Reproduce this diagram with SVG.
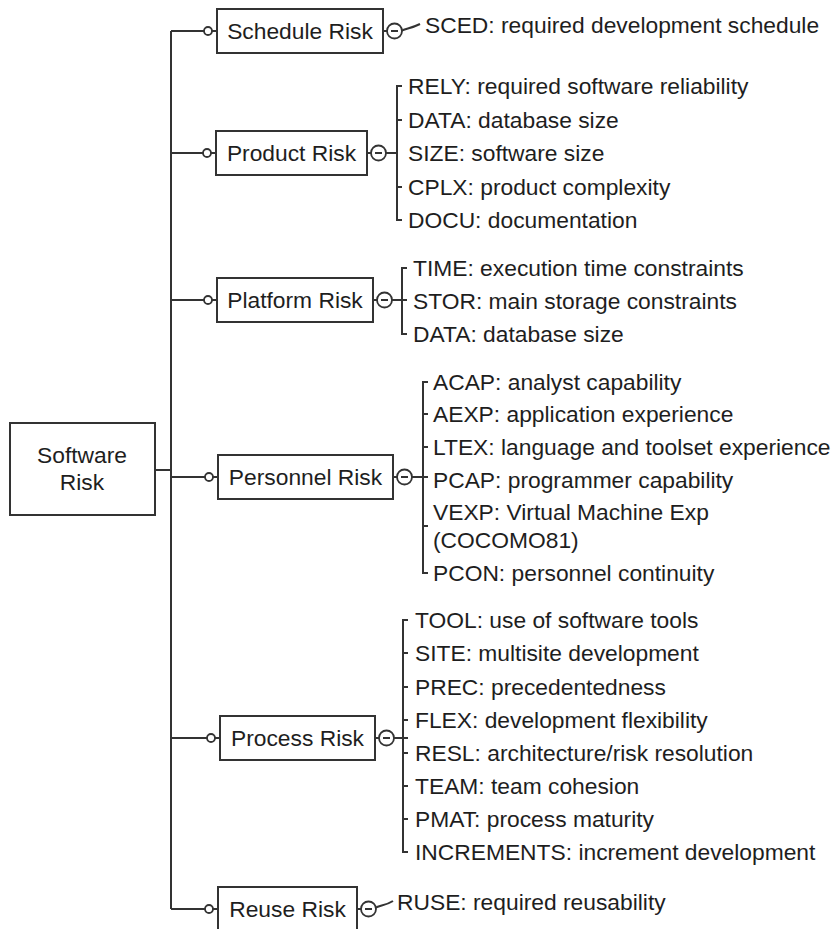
<svg xmlns="http://www.w3.org/2000/svg" width="836" height="929" viewBox="0 0 836 929">
<style>
.ln{fill:none;stroke:#333;stroke-width:2}
.box{fill:#fff;stroke:#333;stroke-width:2}
.oc{fill:#fff;stroke:#333;stroke-width:1.8}
.t{font-family:"Liberation Sans",Arial,sans-serif;font-size:22.8px;fill:#1e1e1e}
.c{text-anchor:middle}
</style>
<rect width="836" height="929" fill="#fff"/>
<g id="connectors">
<path class="ln" d="M171,31 V909"/>
<path class="ln" d="M155,470 H171"/>
<path class="ln" d="M171,31 H204 M212,31 H217"/>
<path class="ln" d="M171,153 H203 M211,153 H216"/>
<path class="ln" d="M171,300 H204 M212,300 H217"/>
<path class="ln" d="M171,477 H205 M213,477 H218"/>
<path class="ln" d="M171,738 H207 M215,738 H220"/>
<path class="ln" d="M171,909 H205 M213,909 H218"/>
<circle class="oc" cx="208" cy="31" r="4"/>
<circle class="oc" cx="207" cy="153" r="4"/>
<circle class="oc" cx="208" cy="300" r="4"/>
<circle class="oc" cx="209" cy="477" r="4"/>
<circle class="oc" cx="211" cy="738" r="4"/>
<circle class="oc" cx="209" cy="909" r="4"/>
</g>
<g id="software-risk">
<rect class="box" x="10" y="423" width="145" height="92"/>
<text class="t c" x="82" y="463">Software</text>
<text class="t c" x="82" y="490">Risk</text>
</g>
<g id="schedule-risk">
<rect class="box" x="217" y="9" width="166" height="44"/>
<text class="t c" x="300" y="39">Schedule Risk</text>
<path class="ln" d="M383,31 H387 M401,31 C406,28 410,29 420,24"/>
<circle class="oc" cx="394.5" cy="31" r="7.5"/>
<path class="ln" d="M391,31 H398"/>
<text class="t" x="425" y="33">SCED: required development schedule</text>
</g>
<g id="product-risk">
<rect class="box" x="216" y="131" width="151" height="44"/>
<text class="t c" x="291.5" y="161">Product Risk</text>
<path class="ln" d="M367,153 H371 M386,153 H397 M402,86 H397 V220 H402 M397,120 H402 M397,187 H402"/>
<circle class="oc" cx="378.5" cy="153" r="7.5"/>
<path class="ln" d="M375,153 H382"/>
<text class="t" x="408" y="94">RELY: required software reliability</text>
<text class="t" x="408" y="128">DATA: database size</text>
<text class="t" x="408" y="161">SIZE: software size</text>
<text class="t" x="408" y="195">CPLX: product complexity</text>
<text class="t" x="408" y="228">DOCU: documentation</text>
</g>
<g id="platform-risk">
<rect class="box" x="217" y="278" width="156" height="44"/>
<text class="t c" x="295" y="308">Platform Risk</text>
<path class="ln" d="M373,300 H377 M392,300 H407 M407,268 H402 V334 H407"/>
<circle class="oc" cx="384.5" cy="300" r="7.5"/>
<path class="ln" d="M381,300 H388"/>
<text class="t" x="413" y="276">TIME: execution time constraints</text>
<text class="t" x="413" y="309">STOR: main storage constraints</text>
<text class="t" x="413" y="342">DATA: database size</text>
</g>
<g id="personnel-risk">
<rect class="box" x="218" y="455" width="175" height="44"/>
<text class="t c" x="305.5" y="485">Personnel Risk</text>
<path class="ln" d="M393,477 H397 M412,477 H428 M428,382 H423 V573 H428 M423,414 H428 M423,447 H428 M423,526 H428"/>
<circle class="oc" cx="404.5" cy="477" r="7.5"/>
<path class="ln" d="M401,477 H408"/>
<text class="t" x="433" y="390">ACAP: analyst capability</text>
<text class="t" x="433" y="422">AEXP: application experience</text>
<text class="t" x="433" y="455">LTEX: language and toolset experience</text>
<text class="t" x="433" y="488">PCAP: programmer capability</text>
<text class="t" x="433" y="520">VEXP: Virtual Machine Exp</text>
<text class="t" x="433" y="548">(COCOMO81)</text>
<text class="t" x="433" y="581">PCON: personnel continuity</text>
</g>
<g id="process-risk">
<rect class="box" x="220" y="716" width="155" height="44"/>
<text class="t c" x="297.5" y="746">Process Risk</text>
<path class="ln" d="M375,738 H379 M394,738 H408 M408,620 H403 V852 H408 M403,653 H408 M403,687 H408 M403,720 H408 M403,753 H408 M403,786 H408 M403,819 H408"/>
<circle class="oc" cx="386.5" cy="738" r="7.5"/>
<path class="ln" d="M383,738 H390"/>
<text class="t" x="415" y="628">TOOL: use of software tools</text>
<text class="t" x="415" y="661">SITE: multisite development</text>
<text class="t" x="415" y="695">PREC: precedentedness</text>
<text class="t" x="415" y="728">FLEX: development flexibility</text>
<text class="t" x="415" y="761">RESL: architecture/risk resolution</text>
<text class="t" x="415" y="794">TEAM: team cohesion</text>
<text class="t" x="415" y="827">PMAT: process maturity</text>
<text class="t" x="415" y="860">INCREMENTS: increment development</text>
</g>
<g id="reuse-risk">
<rect class="box" x="218" y="887" width="139" height="44"/>
<text class="t c" x="287.5" y="917">Reuse Risk</text>
<path class="ln" d="M357,909 H361 M375,908 C380,905 385,906 393,901"/>
<circle class="oc" cx="368.5" cy="909" r="7.5"/>
<path class="ln" d="M365,909 H372"/>
<text class="t" x="397" y="910">RUSE: required reusability</text>
</g>
</svg>
